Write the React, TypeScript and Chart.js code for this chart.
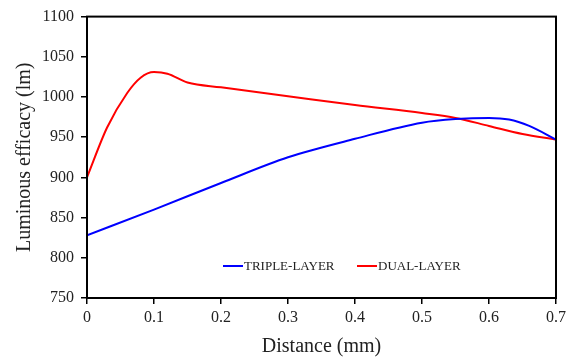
import React, { useEffect, useRef } from 'react';
import { Chart, registerables } from 'chart.js';

Chart.register(...registerables);

const tripleX = [0, 0.1, 0.2, 0.3, 0.4, 0.5, 0.55, 0.6, 0.63, 0.66, 0.7];
const tripleY = [828, 860, 893, 925, 948, 968, 972.5, 974, 972, 964, 947];
const dualX = [0, 0.03, 0.06, 0.08, 0.1, 0.12, 0.15, 0.2, 0.3, 0.4, 0.5, 0.55, 0.6, 0.65, 0.7];
const dualY = [900, 962, 1005, 1024, 1031, 1029, 1018, 1012, 1001, 990, 980, 974, 964, 954, 947];
const seriesNames = ['TRIPLE-LAYER', 'DUAL-LAYER'];
const seriesColors = ['#0000ff', '#ff0000'];
const xTitle = 'Distance (mm)';
const yTitle = 'Luminous efficacy (lm)';

const FONT = '"Liberation Serif", "Times New Roman", serif';

const framePlugin = {
  id: 'frame',
  afterDatasetsDraw(chart: any) {
    const { ctx, chartArea } = chart;
    ctx.save();
    ctx.strokeStyle = '#000';
    ctx.lineWidth = 2;
    ctx.strokeRect(chartArea.left, chartArea.top, chartArea.right - chartArea.left, chartArea.bottom - chartArea.top);
    // legend inside plot
    const y = chartArea.bottom - 32;
    ctx.font = `13px ${FONT}`;
    ctx.textBaseline = 'middle';
    ctx.textAlign = 'left';
    const starts = [chartArea.left + 136, chartArea.left + 270];
    seriesNames.forEach((name, i) => {
      const x0 = starts[i];
      ctx.strokeStyle = seriesColors[i];
      ctx.lineWidth = 2;
      ctx.beginPath();
      ctx.moveTo(x0, y);
      ctx.lineTo(x0 + 20, y);
      ctx.stroke();
      ctx.fillStyle = '#222';
      ctx.fillText(name, x0 + 21, y + 1);
    });
    ctx.restore();
  },
};

export default function App() {
  const ref = useRef<HTMLCanvasElement>(null);
  useEffect(() => {
    const toPts = (xs: number[], ys: number[]) => xs.map((x, i) => ({ x, y: ys[i] }));
    const chart = new Chart(ref.current!, {
      type: 'line',
      data: {
        datasets: [
          {
            label: seriesNames[0],
            data: toPts(tripleX, tripleY),
            borderColor: seriesColors[0],
            borderWidth: 2,
            pointRadius: 0,
            cubicInterpolationMode: 'monotone',
            fill: false,
          },
          {
            label: seriesNames[1],
            data: toPts(dualX, dualY),
            borderColor: seriesColors[1],
            borderWidth: 2,
            pointRadius: 0,
            cubicInterpolationMode: 'monotone',
            fill: false,
          },
        ],
      },
      options: {
        animation: false,
        responsive: true,
        maintainAspectRatio: false,
        layout: { padding: { left: 0, top: 16, right: 15, bottom: 0 } },
        plugins: { legend: { display: false }, tooltip: { enabled: false } },
        scales: {
          x: {
            type: 'linear',
            min: 0,
            max: 0.7,
            afterFit: (s: any) => { s.height = 60; },
            ticks: {
              stepSize: 0.1,
              color: '#222',
              font: { family: FONT, size: 16 },
              padding: 4,
              maxRotation: 0,
              callback: (v: any) => String(Number(Number(v).toFixed(1))),
            },
            grid: { display: true, drawOnChartArea: false, drawTicks: true, tickLength: 6, color: '#000', lineWidth: 1.5 },
            border: { display: false },
            title: { display: true, text: xTitle, color: '#222', font: { family: FONT, size: 20, lineHeight: 1.1 }, padding: { top: 0, bottom: 0 } },
          },
          y: {
            min: 750,
            max: 1100,
            afterFit: (s: any) => { s.width = 87; },
            ticks: {
              stepSize: 50,
              color: '#222',
              font: { family: FONT, size: 16 },
              padding: 7,
              callback: (v: any) => String(Math.round(Number(v))),
            },
            grid: { display: true, drawOnChartArea: false, drawTicks: true, tickLength: 6, color: '#000', lineWidth: 1.5 },
            border: { display: false },
            title: { display: true, text: yTitle, color: '#222', font: { family: FONT, size: 20, lineHeight: 1.2 }, padding: { top: 13, bottom: 0 } },
          },
        },
      } as any,
      plugins: [framePlugin],
    });
    return () => chart.destroy();
  }, []);
  return (
    <div style={{ position: 'fixed', left: 0, top: 0, width: 571, height: 358, background: '#fff' }}>
      <canvas ref={ref} />
    </div>
  );
}
